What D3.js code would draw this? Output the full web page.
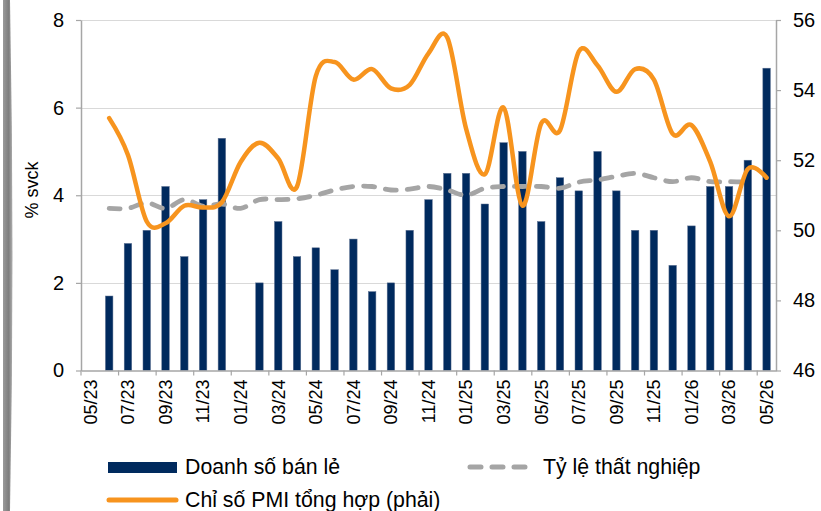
<!DOCTYPE html>
<html><head><meta charset="utf-8">
<script src="https://cdn.jsdelivr.net/npm/d3@7"></script>
<style>body{margin:0;background:#fff}svg{display:block;font-family:Arial,"Liberation Sans",sans-serif}</style>
</head><body>
<svg id="c" width="821" height="511"></svg>
<script>
const months = ["05/23","06/23","07/23","08/23","09/23","10/23","11/23","12/23",
"01/24","02/24","03/24","04/24","05/24","06/24","07/24","08/24","09/24","10/24","11/24","12/24",
"01/25","02/25","03/25","04/25","05/25","06/25","07/25","08/25","09/25","10/25","11/25","12/25",
"01/26","02/26","03/26","04/26","05/26"];
const retailSales = [null,1.7,2.9,3.2,4.2,2.6,3.9,5.3,
null,2.0,3.4,2.6,2.8,2.3,3.0,1.8,2.0,3.2,3.9,4.5,
4.5,3.8,5.2,5.0,3.4,4.4,4.1,5.0,4.1,3.2,3.2,2.4,
3.3,4.2,4.2,4.8,6.9];
const unemployment = [null,3.7,3.7,3.83,3.7,3.9,3.75,3.8,
3.7,3.9,3.9,3.92,4.0,4.12,4.2,4.2,4.12,4.14,4.2,4.12,
4.0,4.16,4.2,4.2,4.2,4.16,4.3,4.35,4.43,4.5,4.4,4.31,
4.4,4.31,4.31,4.3,null];
const pmi = [null,53.2,52.15,50.25,50.2,50.7,50.65,50.8,
51.95,52.5,52.05,51.25,54.4,54.8,54.3,54.6,54.05,54.15,55.05,55.5,
52.9,51.6,53.5,50.7,53.05,52.85,55.1,54.7,53.95,54.6,54.3,52.75,
53.0,51.95,50.4,51.75,51.5];
const leftTicks = [0,2,4,6,8];
const rightTicks = [46,48,50,52,54,56];
const xTickLabels = months.filter((m,i)=>i%2===0);
const seriesNames = ["Doanh số bán lẻ","Tỷ lệ thất nghiệp","Chỉ số PMI tổng hợp (phải)"];
const yTitle = "% svck";

const svg = d3.select("#c");
const L = 81, R = 776, T = 20, B = 370.5;
const x = d3.scaleBand().domain(months).range([L, R]).padding(0);
const yL = d3.scaleLinear().domain([0,8]).range([B, T]);
const yR = d3.scaleLinear().domain([46,56]).range([B, T]);
const navy = "#002A5E", orange = "#F7941E", gray = "#A5A5A5", axisC = "#A6A6A6";

// left decorative strip
const grad = svg.append("defs").append("linearGradient").attr("id","g").attr("x1",0).attr("x2",1);
grad.append("stop").attr("offset",0).attr("stop-color","#9a9a9a");
grad.append("stop").attr("offset",0.6).attr("stop-color","#7d7d7d");
grad.append("stop").attr("offset",1).attr("stop-color","#b0b0b0");
svg.append("path").attr("d","M3,0 L10,0 Q15,255 10,511 L3,511 Z").attr("fill","url(#g)");

// gridlines
svg.append("g").selectAll("line").data(leftTicks.filter(d=>d>0)).join("line")
  .attr("x1",L).attr("x2",R).attr("y1",d=>Math.round(yL(d))+0.5).attr("y2",d=>Math.round(yL(d))+0.5)
  .attr("stroke","#D9D9D9").attr("stroke-width",1.2);

// bars
svg.append("g").selectAll("rect").data(months.map((m,i)=>({m,v:retailSales[i]})).filter(d=>d.v!=null)).join("rect")
  .attr("x",d=>x(d.m)+x.bandwidth()/2-3.75).attr("width",7.5)
  .attr("y",d=>yL(d.v)).attr("height",d=>B-yL(d.v))
  .attr("fill",navy).attr("stroke","#5a6f90").attr("stroke-width",0.5);

// axes
const ax = g => { g.select(".domain").attr("stroke",axisC).attr("stroke-width",1.5); g.selectAll(".tick line").attr("stroke",axisC).attr("stroke-width",1.2); g.selectAll("text").attr("fill","#000").attr("font-size",20); };
svg.append("g").attr("transform",`translate(${L},0)`)
  .call(d3.axisLeft(yL).tickValues(leftTicks).tickSize(5).tickPadding(12).tickSizeOuter(0)).call(ax);
svg.append("g").attr("transform",`translate(${R},0)`)
  .call(d3.axisRight(yR).tickValues(rightTicks).tickSize(5).tickPadding(12).tickSizeOuter(0)).call(ax);
const xa = svg.append("g").attr("transform",`translate(0,${B})`)
  .call(d3.axisBottom(x).tickValues(xTickLabels).tickSize(0).tickSizeOuter(0)).call(ax);
xa.selectAll(".tick text").attr("transform","rotate(-90)").attr("text-anchor","end")
  .attr("x",-9).attr("y",0).attr("dy","0.35em").attr("font-size",18);
// boundary tick marks every 2 categories
svg.append("g").selectAll("line").data(xTickLabels).join("line")
  .attr("x1",d=>x(d)).attr("x2",d=>x(d)).attr("y1",B).attr("y2",B+5)
  .attr("stroke",axisC).attr("stroke-width",1.2);

// lines
const curve = d3.curveCardinal.tension(0);
const uLine = d3.line().defined(d=>d.v!=null).x(d=>x(d.m)+x.bandwidth()/2).y(d=>yL(d.v)).curve(curve);
svg.append("path").datum(months.map((m,i)=>({m,v:unemployment[i]})))
  .attr("d",uLine).attr("fill","none").attr("stroke",gray).attr("stroke-width",4.8)
  .attr("stroke-dasharray","11 11").attr("stroke-linecap","round");
const pLine = d3.line().defined(d=>d.v!=null).x(d=>x(d.m)+x.bandwidth()/2).y(d=>yR(d.v)).curve(curve);
svg.append("path").datum(months.map((m,i)=>({m,v:pmi[i]})))
  .attr("d",pLine).attr("fill","none").attr("stroke",orange).attr("stroke-width",4.5).attr("stroke-linecap","round");

// y title
svg.append("text").attr("transform","translate(38,190) rotate(-90)").attr("text-anchor","middle")
  .attr("font-size",18).text(yTitle);

// legend
const lg = svg.append("g").attr("font-size",21.3);
lg.append("rect").attr("x",108).attr("y",462).attr("width",69).attr("height",11).attr("fill",navy);
lg.append("text").attr("x",185).attr("y",467).attr("dy","0.35em").text(seriesNames[0]);
lg.append("line").attr("x1",470).attr("x2",530).attr("y1",467).attr("y2",467)
  .attr("stroke",gray).attr("stroke-width",5).attr("stroke-dasharray","11 11").attr("stroke-linecap","round");
lg.append("text").attr("x",543).attr("y",467).attr("dy","0.35em").text(seriesNames[1]);
lg.append("line").attr("x1",109).attr("x2",176).attr("y1",500).attr("y2",500)
  .attr("stroke",orange).attr("stroke-width",5).attr("stroke-linecap","round");
lg.append("text").attr("x",185).attr("y",500).attr("dy","0.35em").text(seriesNames[2]);
</script>
</body></html>
